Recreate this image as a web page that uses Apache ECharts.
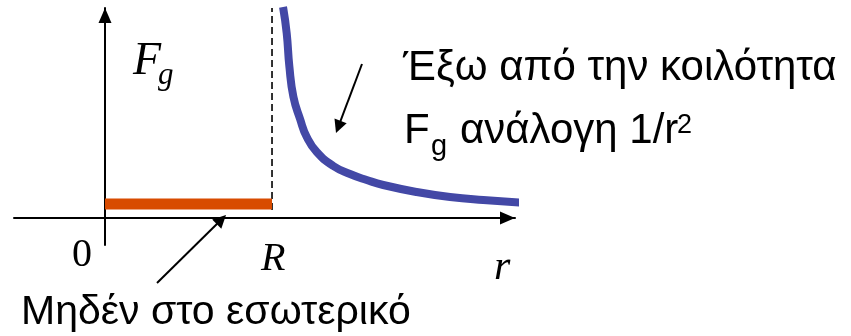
<!DOCTYPE html>
<html>
<head>
<meta charset="utf-8">
<script src="https://cdn.jsdelivr.net/npm/echarts@6/dist/echarts.min.js"></script>
<style>
html,body{margin:0;padding:0;background:#fff;}
#chart{width:851px;height:336px;}
</style>
</head>
<body>
<div id="chart"></div>
<script>
// Data (r in units of R, F in arbitrary units)
const curveR = [1.066, 1.088, 1.104, 1.128, 1.168, 1.208, 1.268, 1.367, 1.467, 1.567, 1.666, 1.866, 2.066, 2.265, 2.535];
const curveF = [21.1, 18.47, 15.13, 12.13, 9.9, 8.1, 6.6, 5.2, 4.4, 3.8, 3.3, 2.6, 2.1, 1.8, 1.5];
const innerR = [0, 1];
const innerF = [1.4, 1.4];
const boundaryR = [1, 1];
const boundaryF = [0.8, 21];

const SANS = '"Liberation Sans", Arial, sans-serif';
const SERIF = '"Liberation Serif", "Times New Roman", serif';

function txt(text, x, y, size, family, italic) {
  return {
    type: 'text', x: x, y: y, silent: true,
    style: {
      text: text, fill: '#000', align: 'left', verticalAlign: 'middle',
      font: (italic ? 'italic ' : '') + size + 'px ' + family
    }
  };
}
function arrow(x1, y1, x2, y2) {
  const dx = x2 - x1, dy = y2 - y1, L = Math.hypot(dx, dy);
  const ux = dx / L, uy = dy / L, hl = 13, hw = 6.5;
  const bx = x2 - ux * hl, by = y2 - uy * hl;
  return [
    { type: 'line', silent: true, shape: { x1: x1, y1: y1, x2: bx + ux * 2, y2: by + uy * 2 }, style: { stroke: '#000', lineWidth: 2 } },
    { type: 'polygon', silent: true, shape: { points: [[x2, y2], [bx - uy * hw, by + ux * hw], [bx + uy * hw, by - ux * hw]] }, style: { fill: '#000' } }
  ];
}

const chart = echarts.init(document.getElementById('chart'), null, { renderer: 'canvas' });
const axisCommon = {
  type: 'value',
  axisLabel: { show: false },
  axisTick: { show: false },
  splitLine: { show: false },
  axisLine: {
    show: true, onZero: true,
    symbol: ['none', 'triangle'], symbolSize: [13, 15], symbolOffset: [0, -7.5],
    lineStyle: { color: '#000', width: 2 }
  }
};
chart.setOption({
  animation: false,
  backgroundColor: '#fff',
  grid: { left: 14, right: 336, top: 8, bottom: 91 },
  xAxis: Object.assign({}, axisCommon, { min: -0.545, max: 2.455 }),
  yAxis: Object.assign({}, axisCommon, { min: -2.7, max: 21 }),
  series: [
    {
      type: 'line', clip: false, showSymbol: false, smooth: 0.5,
      data: curveR.map((r, i) => [r, curveF[i]]),
      lineStyle: { color: '#4348A6', width: 8 }, z: 3
    },
    {
      type: 'line', clip: false, showSymbol: false,
      data: boundaryR.map((r, i) => [r, boundaryF[i]]),
      lineStyle: { color: '#000', width: 1.6, type: [7, 4] }, z: 2
    },
    {
      type: 'line', clip: false, showSymbol: false,
      data: innerR.map((r, i) => [r, innerF[i]]),
      lineStyle: { color: '#D84B00', width: 11, cap: 'butt' }, z: 4
    }
  ],
  graphic: [
    txt('F', 133, 61.5, 46, SERIF, true),
    txt('g', 158, 75.5, 31, SERIF, true),
    txt('0', 72, 255, 40, SERIF, false),
    txt('R', 261, 259.5, 40, SERIF, true),
    txt('r', 494, 268, 42, SERIF, true),
    txt('Έξω από την κοιλότητα', 403, 68.5, 42, SANS, false),
    txt('F', 404, 131.5, 42, SANS, false),
    txt('g', 431, 147, 29, SANS, false),
    txt('ανάλογη 1/r', 460, 131.5, 42, SANS, false),
    txt('2', 677, 125.5, 27, SANS, false),
    txt('Μηδέν στο εσωτερικό', 21, 313, 41, SANS, false)
  ].concat(arrow(362, 64, 336, 133), arrow(157, 283, 226, 215))
});
</script>
</body>
</html>
